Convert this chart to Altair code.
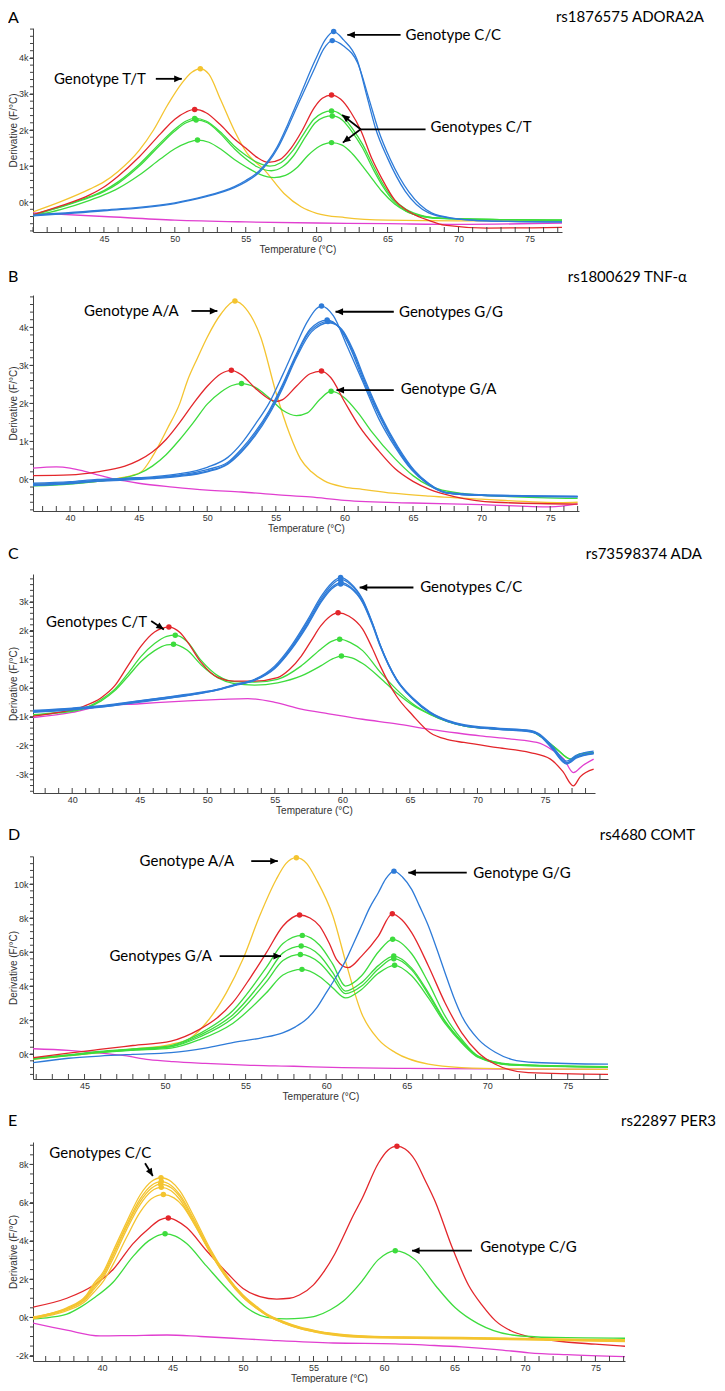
import math
import altair as alt
import pandas as pd

COLORS = {"Y": "#f4c430", "R": "#e3262b", "G": "#3ddc3d", "B": "#2e7bd8", "M": "#e13fd0"}
AX = "#444444"
HEAD = "M0,0L-1,-0.45L-1,0.45Z"

# ---------------- Panel A : rs1876575 ADORA2A ----------------
A_MAGENTA = [(40,-0.3),(45,-0.4),(50,-0.5),(55,-0.55),(60,-0.58),(65,-0.6),(70,-0.62),(77.3,-0.58)]
A_YELLOW_TT = [(40,-0.27),(42,0.02),(44,0.36),(45,0.56),(46,0.85),(47.5,1.44),(48.5,2.0),(49.5,2.7),(50.5,3.3),
               (51.2,3.6),(51.8,3.7),(52.4,3.55),(53.24,2.83),(54.18,2.0),(55.1,1.35),(56.3,0.9),(57.7,0.24),
               (58.9,-0.13),(60,-0.31),(62,-0.43),(65,-0.5),(70,-0.52),(77.3,-0.52)]
A_GREEN_1 = [(40,-0.35),(42,-0.12),(44,0.15),(45,0.32),(46,0.56),(47.5,1.05),(49,1.65),(50,2.02),(50.8,2.25),
             (51.4,2.32),(52.2,2.25),(53.2,1.95),(54.2,1.55),(55,1.3),(55.8,1.1),(56.7,1.0),(57.5,1.1),(58.3,1.42),
             (59.1,1.9),(59.8,2.3),(60.4,2.47),(61.05,2.53),(61.7,2.43),(62.5,2.05),(63.24,1.6),(64,1.0),
             (64.6,0.55),(65.5,0.05),(66.3,-0.2),(67.5,-0.38),(69,-0.45),(77.3,-0.5)]
A_GREEN_2 = [(40,-0.36),(42,-0.13),(44,0.13),(45,0.29),(46,0.52),(47.5,1.0),(49,1.6),(50,1.97),(50.8,2.2),
             (51.5,2.28),(52.3,2.2),(53.2,1.9),(54.2,1.48),(55,1.2),(55.8,0.98),(56.8,0.87),(57.6,0.98),(58.4,1.3),
             (59.2,1.8),(59.9,2.2),(60.5,2.35),(61.1,2.39),(61.8,2.28),(62.5,1.95),(63.24,1.5),(64,0.9),
             (64.6,0.48),(65.5,0.0),(66.3,-0.25),(67.5,-0.4),(69,-0.46),(77.3,-0.5)]
A_GREEN_3 = [(40,-0.38),(42,-0.2),(44,0.05),(45,0.2),(46,0.38),(47.5,0.75),(49,1.2),(50,1.48),(50.9,1.65),
             (51.6,1.72),(52.4,1.66),(53.3,1.45),(54.2,1.18),(55,0.98),(56,0.77),(57,0.68),(57.8,0.74),(58.6,0.95),
             (59.4,1.3),(60.2,1.55),(61.05,1.65),(61.8,1.58),(62.5,1.35),(63.24,1.0),(64,0.6),(64.6,0.3),
             (65.5,-0.05),(66.3,-0.25),(67.5,-0.4),(69,-0.45),(77.3,-0.5)]
A_RED_CT = [(40,-0.35),(42,-0.1),(44,0.2),(45,0.42),(46,0.72),(47.5,1.26),(49,1.9),(50,2.3),(50.8,2.5),(51.4,2.57),
            (52.2,2.48),(53.2,2.15),(54.2,1.75),(55,1.5),(55.8,1.24),(56.6,1.1),(57.4,1.18),(58.2,1.5),(59,2.0),
            (59.8,2.6),(60.4,2.88),(61.05,2.97),(61.7,2.85),(62.4,2.5),(63.1,2.0),(63.9,1.2),(64.6,0.65),
            (65.5,0.06),(66.7,-0.31),(68,-0.52),(69,-0.64),(72,-0.72),(77.3,-0.7)]
A_BLUE_CC1 = [(40,-0.36),(45,-0.22),(50,-0.02),(52,0.15),(54.2,0.43),(55,0.6),(55.94,0.86),(57.23,1.54),(58,2.19),
              (58.7,2.83),(59.9,3.94),(60.6,4.5),(61.2,4.73),(61.9,4.5),(62.86,3.94),(63.57,2.9),(64.15,2.05),
              (65,1.22),(66.25,0.3),(67.9,-0.3),(69.5,-0.45),(72,-0.52),(77.3,-0.55)]
A_BLUE_CC2 = [(40,-0.38),(45,-0.24),(50,-0.04),(52,0.13),(54.2,0.4),(55,0.56),(55.94,0.82),(57.23,1.48),(58,2.1),
              (58.7,2.72),(59.9,3.75),(60.5,4.25),(61.1,4.48),(61.9,4.33),(62.9,3.85),(63.7,2.85),(64.35,2.0),
              (65.2,1.18),(66.5,0.28),(68.1,-0.3),(69.7,-0.45),(72,-0.52),(77.3,-0.55)]
A_PEAKS = [(51.8,3.7,"Y"),(61.2,4.73,"B"),(61.1,4.48,"B"),(51.4,2.57,"R"),(61.05,2.97,"R"),
           (51.4,2.32,"G"),(51.5,2.28,"G"),(51.6,1.72,"G"),(61.05,2.53,"G"),(61.1,2.39,"G"),(61.05,1.65,"G")]
A_TEXTS = [(41.48,3.42,"Genotype T/T"),(66.27,4.64,"Genotype C/C"),(68.03,2.08,"Genotypes C/T")]
A_ARROWS = [(48.66,3.42,50.49,3.42,1),(65.92,4.64,62.16,4.64,1),(67.68,2.02,63.1,2.02,0),
            (63.1,2.02,61.8,2.42,1),(63.1,2.02,61.85,1.65,1)]

# ---------------- Panel B : rs1800629 TNF-alpha ----------------
B_MAGENTA = [(37.3,0.3),(39,0.33),(40,0.3),(41,0.22),(42,0.12),(43,0.03),(44,-0.04),(45,-0.1),(47.5,-0.2),
             (50,-0.28),(52.5,-0.33),(55,-0.4),(57.5,-0.46),(60,-0.55),(65,-0.62),(70,-0.66),(75,-0.72),(77,-0.64)]
B_YELLOW_AA = [(37.3,-0.12),(40,-0.1),(42,-0.05),(43.5,0.03),(44.5,0.1),(45.2,0.2),(46,0.6),(47.1,1.34),(48,2.0),
               (48.55,2.59),(49.3,3.2),(50,3.74),(51,4.35),(52,4.69),(52.8,4.5),(53.9,3.74),(55,2.3),(56,1.2),
               (56.8,0.54),(57.6,0.2),(58.5,-0.03),(60,-0.2),(61.3,-0.26),(63.5,-0.36),(66.2,-0.44),(70,-0.52),
               (75.9,-0.61),(77,-0.6)]
B_GREEN_GA = [(37.3,-0.17),(40,-0.12),(42,-0.05),(44,0.05),(45,0.15),(46,0.35),(47,0.65),(48,1.05),(49,1.5),
              (50,1.98),(51,2.3),(51.8,2.47),(52.5,2.52),(53.5,2.42),(54.5,2.15),(55.5,1.82),(56.5,1.68),(57.3,1.75),
              (58.2,2.1),(59.03,2.32),(60,2.15),(61,1.75),(62,1.25),(63.7,0.54),(65,0.1),(66.2,-0.17),(68.6,-0.37),
              (72,-0.45),(77,-0.5)]
B_RED_GA = [(37.3,0.1),(40,0.12),(42,0.2),(44,0.35),(45,0.5),(46,0.72),(47,1.05),(48,1.5),(49,2.0),(50,2.45),
            (51,2.78),(51.76,2.87),(52.5,2.75),(53.5,2.4),(54.5,2.12),(55,2.05),(55.5,2.1),(56.5,2.45),(57.5,2.78),
            (58.33,2.85),(59,2.68),(60,2.05),(61.04,1.42),(62.5,0.75),(63.7,0.28),(65,-0.05),(66.2,-0.26),
            (68,-0.45),(71,-0.6),(77,-0.65)]
B_BLUE_GG1 = [(37.3,-0.13),(40,-0.08),(42,-0.02),(44,0.03),(46,0.07),(48,0.15),(50,0.32),(51.5,0.58),(52.5,0.95),
              (53.5,1.45),(54.5,2.0),(55.5,2.75),(56.5,3.55),(57.3,4.15),(58.33,4.56),(59.2,4.3),(60.2,3.5),
              (61.3,2.6),(62.5,1.6),(63.7,0.85),(64.9,0.25),(66,-0.1),(67.4,-0.35),(70,-0.42),(77,-0.45)]
B_BLUE_GG2 = [(37.3,-0.15),(40,-0.1),(42,-0.04),(44,0.0),(46,0.05),(48,0.12),(50,0.26),(51.5,0.45),(52.5,0.8),
              (53.5,1.25),(54.5,1.8),(55.5,2.5),(56.5,3.3),(57.5,3.95),(58.74,4.19),(59.6,4.0),(60.5,3.4),
              (61.3,2.67),(62.5,1.7),(63.7,0.9),(64.9,0.27),(66,-0.1),(67.4,-0.35),(70,-0.42),(77,-0.45)]
B_BLUE_GG3 = [(37.3,-0.1),(40,-0.06),(42,0.0),(44,0.02),(46,0.04),(48,0.1),(50,0.22),(51.5,0.42),(52.5,0.75),
              (53.5,1.2),(54.5,1.75),(55.5,2.45),(56.5,3.25),(57.5,3.9),(58.8,4.15),(59.7,3.97),(60.6,3.38),
              (61.4,2.65),(62.6,1.68),(63.8,0.88),(65,0.26),(66.1,-0.1),(67.5,-0.35),(70,-0.4),(77,-0.44)]
B_BLUE_GG4 = [(37.3,-0.16),(40,-0.11),(42,-0.05),(44,-0.02),(46,0.02),(48,0.08),(50,0.2),(51.5,0.4),(52.5,0.72),
              (53.5,1.15),(54.5,1.7),(55.5,2.4),(56.5,3.2),(57.6,3.88),(58.9,4.12),(59.8,3.95),(60.7,3.35),
              (61.5,2.62),(62.7,1.65),(63.9,0.86),(65.1,0.24),(66.2,-0.12),(67.6,-0.36),(70,-0.42),(77,-0.46)]
B_PEAKS = [(52.02,4.69,"Y"),(51.76,2.87,"R"),(58.33,2.85,"R"),(52.5,2.52,"G"),(59.03,2.32,"G"),
           (58.33,4.56,"B"),(58.74,4.19,"B"),(58.8,4.15,"B")]
B_TEXTS = [(41.02,4.43,"Genotype A/A"),(63.98,4.41,"Genotypes G/G"),(64.1,2.37,"Genotype G/A")]
B_ARROWS = [(48.85,4.43,50.74,4.43,1),(63.6,4.41,59.35,4.41,1),(63.6,2.35,59.42,2.35,1)]

# ---------------- Panel C : rs73598374 ADA ----------------
C_MAGENTA = [(37.1,-1.03),(40,-0.85),(42.15,-0.63),(45,-0.55),(48.57,-0.45),(51,-0.4),(53,-0.37),(55,-0.5),
             (56.96,-0.74),(59,-0.9),(61.5,-1.09),(64,-1.25),(66.5,-1.44),(68.5,-1.57),(70.2,-1.67),(72.5,-1.78),
             (74.4,-1.9),(75.5,-2.15),(76.4,-2.48),(77.1,-2.95),(77.8,-2.7),(78.6,-2.48)]
C_GREEN_1 = [(37.1,-0.93),(39,-0.85),(40.9,-0.7),(42.15,-0.4),(43.14,-0.05),(44.12,0.5),(45.1,1.1),(46.1,1.55),
             (47,1.8),(47.63,1.84),(48.5,1.62),(49.56,0.95),(50.8,0.42),(52,0.22),(53.5,0.2),(55.2,0.3),(56.96,0.77),
             (58.4,1.35),(59.2,1.62),(59.8,1.7),(60.6,1.58),(61.5,1.3),(62.8,0.55),(64,-0.05),(65.2,-0.55),
             (66.5,-0.92),(69,-1.32),(71,-1.42),(73.9,-1.5),(74.7,-1.7),(75.8,-2.1),(76.9,-2.48),(77.6,-2.3),(78.6,-2.25)]
C_GREEN_2 = [(37.1,-0.95),(39,-0.87),(40.9,-0.72),(42.15,-0.45),(43.14,-0.1),(44.12,0.4),(45.1,0.92),(46.1,1.3),
             (47,1.5),(47.5,1.52),(48.5,1.32),(49.56,0.8),(50.8,0.35),(52,0.15),(53.5,0.1),(55.2,0.18),(56.96,0.42),
             (58.4,0.77),(59.3,1.02),(59.93,1.11),(60.7,1.05),(61.5,0.85),(62.8,0.35),(64,-0.17),(65.2,-0.6),
             (66.5,-0.92),(69,-1.32),(71,-1.42),(73.9,-1.5),(74.7,-1.7),(75.8,-2.1),(76.9,-2.48),(77.6,-2.3),(78.6,-2.25)]
C_RED_CT = [(37.1,-0.98),(39,-0.85),(40.9,-0.63),(42.15,-0.34),(43.14,0.07),(44.12,0.77),(45.1,1.46),(46.1,1.95),
            (47.16,2.12),(48,1.92),(48.57,1.58),(49.56,0.88),(50.8,0.36),(52,0.24),(53.5,0.24),(55.2,0.36),(56.1,0.65),
            (56.96,1.11),(57.7,1.65),(58.4,2.16),(59.1,2.5),(59.68,2.62),(60.5,2.5),(61.5,2.05),(62.2,1.4),
            (62.8,0.77),(64,-0.28),(65.2,-0.95),(66.5,-1.56),(67.8,-1.8),(69,-1.9),(71.5,-2.08),(73.9,-2.25),
            (75.4,-2.48),(76.3,-2.9),(77.1,-3.41),(77.6,-3.1),(78.6,-2.83)]
C_BLUE_CC1 = [(37.1,-0.8),(40,-0.72),(42.5,-0.62),(44.6,-0.48),(47,-0.33),(49.56,-0.16),(51,-0.02),(52,0.12),
              (53.5,0.3),(55,0.77),(56.2,1.46),(57.45,2.39),(58.44,3.2),(59.2,3.65),(59.87,3.85),(60.6,3.65),
              (61.5,3.09),(62.2,2.3),(62.8,1.5),(64,0.3),(65.26,-0.39),(66.5,-0.86),(67.8,-1.15),(69,-1.3),
              (71.5,-1.42),(73.9,-1.5),(74.5,-1.6),(75.5,-2.05),(76.6,-2.6),(77.3,-2.4),(78.6,-2.25)]
C_BLUE_CC2 = [(37.1,-0.83),(40,-0.74),(42.5,-0.64),(44.6,-0.5),(47,-0.36),(49.56,-0.18),(51,-0.04),(52,0.1),
              (53.5,0.28),(55,0.72),(56.2,1.4),(57.45,2.32),(58.44,3.12),(59.2,3.58),(59.87,3.78),(60.6,3.6),
              (61.5,3.05),(62.2,2.28),(62.8,1.5),(64,0.32),(65.26,-0.37),(66.5,-0.84),(67.8,-1.13),(69,-1.28),
              (71.5,-1.4),(73.9,-1.48),(74.5,-1.58),(75.5,-2.0),(76.6,-2.55),(77.3,-2.35),(78.6,-2.2)]
C_BLUE_CC3 = [(37.1,-0.78),(40,-0.7),(42.5,-0.6),(44.6,-0.47),(47,-0.32),(49.56,-0.15),(51,-0.03),(52,0.1),
              (53.5,0.27),(55,0.7),(56.2,1.36),(57.45,2.25),(58.44,3.05),(59.2,3.5),(59.9,3.67),(60.6,3.52),
              (61.5,3.0),(62.2,2.25),(62.8,1.48),(64,0.3),(65.26,-0.4),(66.5,-0.87),(67.8,-1.16),(69,-1.31),
              (71.5,-1.43),(73.9,-1.52),(74.5,-1.62),(75.5,-2.08),(76.6,-2.62),(77.3,-2.42),(78.6,-2.28)]
C_BLUE_CC4 = [(37.1,-0.85),(40,-0.76),(42.5,-0.65),(44.6,-0.52),(47,-0.37),(49.56,-0.19),(51,-0.05),(52,0.08),
              (53.5,0.26),(55,0.68),(56.2,1.33),(57.45,2.2),(58.44,3.0),(59.2,3.45),(59.87,3.62),(60.6,3.48),
              (61.5,2.97),(62.2,2.22),(62.8,1.45),(64,0.28),(65.26,-0.41),(66.5,-0.88),(67.8,-1.17),(69,-1.32),
              (71.5,-1.44),(73.9,-1.53),(74.5,-1.63),(75.5,-2.1),(76.6,-2.65),(77.3,-2.45),(78.6,-2.3)]
C_PEAKS = [(47.16,2.12,"R"),(59.68,2.62,"R"),(47.63,1.84,"G"),(47.5,1.52,"G"),(59.8,1.7,"G"),(59.93,1.11,"G"),
           (59.87,3.85,"B"),(59.87,3.78,"B"),(59.9,3.67,"B"),(59.87,3.62,"B")]
C_TEXTS = [(38.07,2.3,"Genotypes C/T"),(65.76,3.5,"Genotypes C/C")]
C_ARROWS = [(45.85,2.33,46.79,2.04,1),(65.26,3.5,61.28,3.5,1)]

# ---------------- Panel D : rs4680 COMT ----------------
D_MAGENTA = [(41.8,0.31),(44,0.22),(46,0.06),(47.5,-0.1),(49,-0.33),(50.5,-0.45),(52.5,-0.55),(55,-0.65),
             (58,-0.72),(61,-0.8),(65,-0.85),(70,-0.88),(77.5,-0.9)]
D_YELLOW_AA = [(41.8,-0.31),(44,-0.1),(45.93,0.08),(48,0.3),(50.37,0.57),(51.6,0.96),(52.56,1.84),(53.8,3.6),
               (54.83,5.57),(55.87,8.12),(56.9,10.27),(57.5,11.2),(58.15,11.55),(58.8,11.2),(59.39,10.27),
               (60.42,8.12),(61.25,5.3),(62.2,2.4),(63.24,0.86),(64.3,0.08),(66.35,-0.6),(68.4,-0.8),(72,-0.88),(77.5,-0.9)]
D_GREEN_1 = [(41.8,-0.25),(44,-0.05),(45.93,0.15),(48,0.3),(50.37,0.5),(52.14,1.2),(54.2,2.55),(56.29,5.1),
             (57.32,6.5),(58.52,6.98),(59.6,6.4),(60.4,5.3),(61.2,4.0),(62.2,4.6),(63.24,6.0),(64.13,6.75),
             (65.31,5.9),(66.35,4.2),(67.38,2.24),(68.42,0.86),(69.45,-0.12),(71.5,-0.6),(77.5,-0.75)]
D_GREEN_2 = [(41.8,-0.27),(44,-0.07),(45.93,0.12),(48,0.27),(50.37,0.45),(52.14,1.1),(54.2,2.3),(56.29,4.6),
             (57.32,5.95),(58.45,6.35),(59.6,5.8),(60.4,4.8),(61.2,3.7),(62.2,4.2),(63.24,5.2),(64.2,5.76),
             (65.31,5.05),(66.35,3.6),(67.38,1.95),(68.42,0.75),(69.45,-0.15),(71.5,-0.62),(77.5,-0.76)]
D_GREEN_3 = [(41.8,-0.28),(44,-0.08),(45.93,0.1),(48,0.25),(50.37,0.42),(52.14,1.0),(54.2,2.1),(56.29,4.25),
             (57.32,5.5),(58.4,5.86),(59.6,5.35),(60.4,4.5),(61.2,3.55),(62.2,4.0),(63.24,5.0),(64.2,5.61),
             (65.31,4.95),(66.35,3.5),(67.38,1.9),(68.42,0.7),(69.45,-0.17),(71.5,-0.63),(77.5,-0.77)]
D_GREEN_4 = [(41.8,-0.3),(44,-0.1),(45.93,0.08),(48,0.22),(50.37,0.35),(52.14,0.85),(54.2,1.8),(56.29,3.6),
             (57.32,4.65),(58.5,4.98),(59.6,4.55),(60.4,3.9),(61.2,3.3),(62.2,3.8),(63.24,4.75),(64.25,5.22),
             (65.31,4.6),(66.35,3.3),(67.38,1.8),(68.42,0.65),(69.45,-0.2),(71.5,-0.65),(77.5,-0.78)]
D_RED_GA = [(41.8,-0.22),(44,0.05),(45.93,0.27),(48,0.5),(50.37,0.76),(52.14,1.45),(53.2,2.1),(54.2,3.02),(55.3,4.5),
            (56.29,5.96),(57.32,7.53),(58.35,8.18),(59,8.0),(59.6,7.53),(60.2,6.5),(60.64,5.57),(61.36,5.08),
            (62.2,5.76),(63.24,6.94),(64.11,8.25),(64.7,7.9),(65.31,7.14),(66.35,5.18),(67.38,3.02),(68.42,1.25),
            (69.45,0.08),(70.5,-0.6),(72.55,-1.1),(77.5,-1.2)]
D_BLUE_GG = [(41.8,-0.51),(44,-0.25),(45.93,-0.12),(48,-0.02),(50.37,0.08),(52.5,0.35),(54.2,0.67),(56,0.95),
             (57.3,1.25),(58.1,1.6),(58.77,2.04),(59.4,2.7),(60,3.6),(60.6,4.5),(61.25,5.57),(61.7,6.5),(62.19,7.53),
             (62.7,8.6),(63.24,9.49),(63.7,10.3),(64.21,10.76),(64.75,10.4),(65.31,9.69),(65.8,8.7),(66.35,7.53),
             (66.9,6.1),(67.38,4.78),(67.9,3.4),(68.42,2.24),(69.45,0.86),(70.5,0.1),(71.5,-0.31),(73,-0.5),(77.5,-0.6)]
D_PEAKS = [(58.15,11.55,"Y"),(58.35,8.18,"R"),(64.11,8.25,"R"),(58.52,6.98,"G"),(58.45,6.35,"G"),(58.4,5.86,"G"),
           (58.5,4.98,"G"),(64.13,6.75,"G"),(64.2,5.76,"G"),(64.2,5.61,"G"),(64.25,5.22,"G"),(64.21,10.76,"B")]
D_TEXTS = [(48.42,11.35,"Genotype A/A"),(46.55,5.76,"Genotypes G/A"),(69.14,10.67,"Genotype G/G")]
D_ARROWS = [(55.35,11.35,57.0,11.35,1),(53.39,5.76,57.2,5.76,1),(68.73,10.67,65.1,10.67,1)]

# ---------------- Panel E : rs22897 PER3 ----------------
E_MAGENTA = [(35.1,-0.3),(37.5,-0.67),(39.86,-0.97),(42,-0.95),(44.6,-0.92),(47,-1.0),(49.3,-1.09),(52,-1.2),
             (56.4,-1.34),(60.8,-1.38),(63,-1.45),(65.5,-1.54),(68,-1.68),(70.3,-1.85),(73,-1.95),(77.1,-2.05)]
E_YELLOW_CC1 = [(35.1,0.0),(36.3,0.2),(37.5,0.5),(38.9,1.17),(39.4,1.75),(40.1,2.4),(40.8,3.5),(41.75,5.0),(42.7,6.4),
                (43.5,7.1),(44.18,7.3),(44.9,7.1),(45.53,6.6),(46.5,5.3),(47.66,3.6),(48.84,2.2),(50,1.17),(51,0.55),
                (51.7,0.17),(52.8,-0.2),(54,-0.5),(55.2,-0.7),(56.4,-0.84),(58.44,-0.97),(61,-1.02),(65.5,-1.05),
                (70,-1.1),(77.1,-1.17)]
E_YELLOW_CC2 = [(35.1,-0.02),(36.3,0.18),(37.5,0.46),(38.9,1.1),(39.4,1.65),(40.1,2.3),(40.8,3.35),(41.75,4.85),
                (42.7,6.2),(43.5,6.9),(44.2,7.1),(44.9,6.9),(45.53,6.4),(46.5,5.15),(47.66,3.5),(48.84,2.15),(50,1.15),
                (51,0.5),(51.7,0.15),(52.8,-0.22),(54,-0.52),(55.2,-0.72),(56.4,-0.86),(58.44,-0.98),(61,-1.03),
                (65.5,-1.07),(70,-1.12),(77.1,-1.2)]
E_YELLOW_CC3 = [(35.1,0.02),(36.3,0.2),(37.5,0.45),(38.9,1.05),(39.4,1.55),(40.1,2.2),(40.8,3.25),(41.75,4.75),
                (42.7,6.05),(43.5,6.75),(44.15,6.97),(44.9,6.78),(45.53,6.3),(46.5,5.05),(47.66,3.45),(48.84,2.1),
                (50,1.1),(51,0.48),(51.7,0.12),(52.8,-0.25),(54,-0.55),(55.2,-0.75),(56.4,-0.88),(58.44,-1.0),
                (61,-1.05),(65.5,-1.08),(70,-1.13),(77.1,-1.22)]
E_YELLOW_CC4 = [(35.1,-0.05),(36.3,0.15),(37.5,0.42),(38.9,1.0),(39.4,1.45),(40.1,2.1),(40.8,3.1),(41.75,4.6),
                (42.7,5.9),(43.5,6.6),(44.2,6.8),(44.9,6.62),(45.53,6.15),(46.5,4.95),(47.66,3.4),(48.84,2.05),
                (50,1.05),(51,0.45),(51.7,0.1),(52.8,-0.27),(54,-0.57),(55.2,-0.77),(56.4,-0.9),(58.44,-1.02),
                (61,-1.07),(65.5,-1.1),(70,-1.15),(77.1,-1.25)]
E_YELLOW_CC5 = [(35.1,-0.08),(36.3,0.1),(37.5,0.35),(38.9,0.9),(39.4,1.3),(40.1,1.9),(40.8,2.8),(41.75,4.2),
                (42.7,5.5),(43.5,6.2),(44.35,6.42),(45.1,6.25),(45.7,5.85),(46.6,4.8),(47.75,3.3),(48.9,2.0),
                (50,1.05),(51,0.45),(51.7,0.1),(52.8,-0.27),(54,-0.58),(55.2,-0.78),(56.4,-0.92),(58.44,-1.04),
                (61,-1.08),(65.5,-1.12),(70,-1.17),(77.1,-1.27)]
E_GREEN_CG = [(35.1,-0.08),(36.3,0.0),(37.5,0.17),(38.5,0.55),(39.4,1.0),(40.8,1.85),(42.2,3.19),(43.3,4.0),
              (44.47,4.37),(45.2,4.25),(46,3.86),(47.4,2.69),(48.84,1.51),(50.26,0.5),(51.7,0.0),(53.1,-0.08),
              (54.2,-0.04),(55.2,0.08),(56.2,0.4),(57.1,0.84),(57.8,1.35),(58.44,1.9),(59.6,3.02),(60.8,3.48),
              (62.2,3.02),(63.64,1.68),(65.06,0.5),(66.7,-0.34),(69.1,-0.92),(72,-1.05),(77.1,-1.09)]
E_RED_CG = [(35.1,0.54),(37.5,1.0),(39.4,1.68),(40.8,2.52),(42.2,3.86),(43.4,4.7),(44.1,5.1),(44.7,5.2),(45.3,5.05),
            (46,4.7),(47.4,3.5),(48.84,2.35),(50,1.51),(51.2,1.09),(52.4,0.96),(53.3,1.0),(54,1.17),(55,1.7),
            (55.7,2.35),(56.5,3.3),(57.1,4.2),(57.8,5.3),(58.44,6.2),(59.6,8.06),(60.3,8.75),(60.92,8.95),(61.5,8.8),
            (62.2,8.23),(62.9,7.2),(63.64,6.05),(64.82,3.69),(66,1.68),(67,0.6),(67.9,-0.17),(69,-0.7),
            (70.26,-1.0),(72.6,-1.26),(75,-1.4),(77.1,-1.51)]
E_PEAKS = [(44.18,7.3,"Y"),(44.2,7.1,"Y"),(44.15,6.97,"Y"),(44.2,6.8,"Y"),(44.35,6.42,"Y"),
           (44.7,5.2,"R"),(60.92,8.95,"R"),(44.47,4.37,"G"),(60.8,3.48,"G")]
E_TEXTS = [(36.26,8.6,"Genotypes C/C"),(66.83,3.66,"Genotype C/G")]
E_ARROWS = [(43.05,8.06,43.6,7.39,1),(66.24,3.49,61.99,3.49,1)]

PANELS = [
    dict(letter="A", title="rs1876575 ADORA2A", w=529, h=204, title_x=671, title_y=-18, title_base="top",
         xdom=[40.0, 77.3], ydom=[-0.83, 4.83], xlabels=[45, 50, 55, 60, 65, 70, 75], ylabels=[0, 1, 2, 3, 4],
         ystep=0.2,
         curves=[("M", A_MAGENTA), ("Y", A_YELLOW_TT), ("G", A_GREEN_1), ("G", A_GREEN_2), ("G", A_GREEN_3),
                 ("R", A_RED_CT), ("B", A_BLUE_CC1), ("B", A_BLUE_CC2)],
         peaks=A_PEAKS, texts=A_TEXTS, arrows=A_ARROWS),
    dict(letter="B", title="rs1800629 TNF-\u03b1", w=546, h=216, title_x=654, title_y=-18, title_base="middle",
         xdom=[37.3, 77.1], ydom=[-0.83, 4.85], xlabels=[40, 45, 50, 55, 60, 65, 70, 75], ylabels=[0, 1, 2, 3, 4],
         ystep=0.2,
         curves=[("M", B_MAGENTA), ("Y", B_YELLOW_AA), ("G", B_GREEN_GA), ("R", B_RED_GA), ("B", B_BLUE_GG1),
                 ("B", B_BLUE_GG2), ("B", B_BLUE_GG3), ("B", B_BLUE_GG4)],
         peaks=B_PEAKS, texts=B_TEXTS, arrows=B_ARROWS),
    dict(letter="C", title="rs73598374 ADA", w=562, h=219, title_x=669, title_y=-20, title_base="middle",
         xdom=[37.1, 78.7], ydom=[-3.66, 3.97], xlabels=[40, 45, 50, 55, 60, 65, 70, 75],
         ylabels=[-3, -2, -1, 0, 1, 2, 3], ystep=0.2,
         curves=[("M", C_MAGENTA), ("G", C_GREEN_1), ("G", C_GREEN_2), ("R", C_RED_CT), ("B", C_BLUE_CC1),
                 ("B", C_BLUE_CC2), ("B", C_BLUE_CC3), ("B", C_BLUE_CC4)],
         peaks=C_PEAKS, texts=C_TEXTS, arrows=C_ARROWS),
    dict(letter="D", title="rs4680 COMT", w=575, h=223, title_x=662, title_y=-21, title_base="middle",
         xdom=[41.8, 77.5], ydom=[-1.47, 11.65], xlabels=[45, 50, 55, 60, 65, 70, 75],
         ylabels=[0, 2, 4, 6, 8, 10], ystep=0.4,
         curves=[("M", D_MAGENTA), ("Y", D_YELLOW_AA), ("G", D_GREEN_1), ("G", D_GREEN_2), ("G", D_GREEN_3),
                 ("G", D_GREEN_4), ("R", D_RED_GA), ("B", D_BLUE_GG)],
         peaks=D_PEAKS, texts=D_TEXTS, arrows=D_ARROWS),
    dict(letter="E", title="rs22897 PER3", w=592, h=219, title_x=683, title_y=-21, title_base="middle",
         xdom=[35.1, 77.1], ydom=[-2.28, 9.17], xlabels=[40, 45, 50, 55, 60, 65, 70, 75],
         ylabels=[-2, 0, 2, 4, 6, 8], ystep=0.5,
         curves=[("M", E_MAGENTA), ("R", E_RED_CG), ("G", E_GREEN_CG), ("Y", E_YELLOW_CC1), ("Y", E_YELLOW_CC2),
                 ("Y", E_YELLOW_CC3), ("Y", E_YELLOW_CC4), ("Y", E_YELLOW_CC5)],
         peaks=E_PEAKS, texts=E_TEXTS, arrows=E_ARROWS),
]


def make_panel(p):
    w, h = p["w"], p["h"]
    x0, x1 = p["xdom"]
    y0, y1 = p["ydom"]
    xs = alt.Scale(domain=p["xdom"], nice=False, zero=False)
    ys = alt.Scale(domain=p["ydom"], nice=False, zero=False)
    xaxis = alt.Axis(values=p["xlabels"], ticks=False, tickSize=0, labelPadding=2, labelFlush=False,
                     title="Temperature (\u00b0C)", titleX=w / 2, titleY=17, titleBaseline="middle",
                     titleAlign="center")
    yaxis = alt.Axis(values=p["ylabels"], labelExpr="datum.value + 'k'", tickSize=4, labelPadding=1,
                     labelFlush=False, title="Derivative (F/\u00b0C)", titleX=-20, titleY=h / 2,
                     titleAngle=270, titleBaseline="middle", titleAlign="center")

    def X(f):
        return alt.X(f, scale=xs, axis=xaxis)

    def Y(f):
        return alt.Y(f, scale=ys, axis=yaxis)

    layers = []
    for ck, pts in p["curves"]:
        df = pd.DataFrame({"T": [a for a, b in pts], "D": [b for a, b in pts]})
        layers.append(
            alt.Chart(df).mark_line(interpolate="monotone", strokeWidth=1.3, color=COLORS[ck], clip=True)
            .encode(x=X("T:Q"), y=Y("D:Q"))
        )
    # x ticks (pointing up, every degree)
    xt = pd.DataFrame({"T": list(range(math.ceil(x0), math.floor(x1) + 1))})
    layers.append(alt.Chart(xt).mark_rule(color=AX, strokeWidth=1).encode(
        x=X("T:Q"), y=alt.value(h - 5), y2=alt.value(h)))
    # y minor ticks
    st = p["ystep"]
    yt = pd.DataFrame({"D": [round(k * st, 4) for k in range(math.ceil(y0 / st - 1e-9), math.floor(y1 / st + 1e-9) + 1)]})
    layers.append(alt.Chart(yt).mark_rule(color=AX, strokeWidth=1).encode(
        y=Y("D:Q"), x=alt.value(-3), x2=alt.value(0)))
    # peak dots
    pk = pd.DataFrame({"T": [a for a, b, c in p["peaks"]], "D": [b for a, b, c in p["peaks"]],
                       "c": [COLORS[c] for a, b, c in p["peaks"]]})
    layers.append(alt.Chart(pk).mark_circle(size=30, opacity=1).encode(
        x=X("T:Q"), y=Y("D:Q"), color=alt.Color("c:N", scale=None)))
    # arrows
    sx = w / (x1 - x0)
    sy = h / (y1 - y0)
    ar = pd.DataFrame({
        "T": [a[0] for a in p["arrows"]], "D": [a[1] for a in p["arrows"]],
        "T2": [a[2] for a in p["arrows"]], "D2": [a[3] for a in p["arrows"]],
        "head": [a[4] for a in p["arrows"]],
    })
    ar["ang"] = [math.degrees(math.atan2(-(r.D2 - r.D) * sy, (r.T2 - r.T) * sx)) % 360 for r in ar.itertuples()]
    layers.append(alt.Chart(ar).mark_rule(color="black", strokeWidth=1.8).encode(
        x=X("T:Q"), y=Y("D:Q"), x2="T2:Q", y2="D2:Q"))
    layers.append(alt.Chart(ar[ar["head"] == 1]).mark_point(shape=HEAD, filled=True, size=230, color="black",
                                                            opacity=1, strokeWidth=0).encode(
        x=X("T2:Q"), y=Y("D2:Q"), angle=alt.Angle("ang:Q", scale=None)))
    # annotation texts
    tx = pd.DataFrame({"T": [t[0] for t in p["texts"]], "D": [t[1] for t in p["texts"]],
                       "label": [t[2] for t in p["texts"]]})
    layers.append(alt.Chart(tx).mark_text(align="left", baseline="middle", font="Lato", fontSize=15,
                                          color="black").encode(
        x=X("T:Q"), y=Y("D:Q"), text="label:N"))
    # panel letter and title
    hd = pd.DataFrame({"letter": [p["letter"]], "title": [p["title"]]})
    layers.append(alt.Chart(hd).mark_text(align="left", baseline=p["title_base"], font="Lato", fontSize=16,
                                          color="black").encode(
        x=alt.value(-25), y=alt.value(p["title_y"]), text="letter:N"))
    layers.append(alt.Chart(hd).mark_text(align="right", baseline=p["title_base"], font="Lato", fontSize=15,
                                          color="black").encode(
        x=alt.value(p["title_x"]), y=alt.value(p["title_y"]), text="title:N"))
    return alt.layer(*layers).properties(width=w, height=h)


chart = alt.vconcat(*[make_panel(p) for p in PANELS], spacing=63, bounds="flush").properties(
    padding={"left": 0, "top": 2, "right": 0, "bottom": 0}
).configure_view(stroke=None).configure_axis(
    labelFont="Liberation Sans", labelFontSize=9, labelColor="#333333",
    titleFont="Liberation Sans", titleFontSize=10, titleColor="#333333", titleFontWeight="normal",
    domainColor=AX, tickColor=AX, grid=False
)

chart.save("out.html", embed_options={"renderer": "svg", "actions": False})
